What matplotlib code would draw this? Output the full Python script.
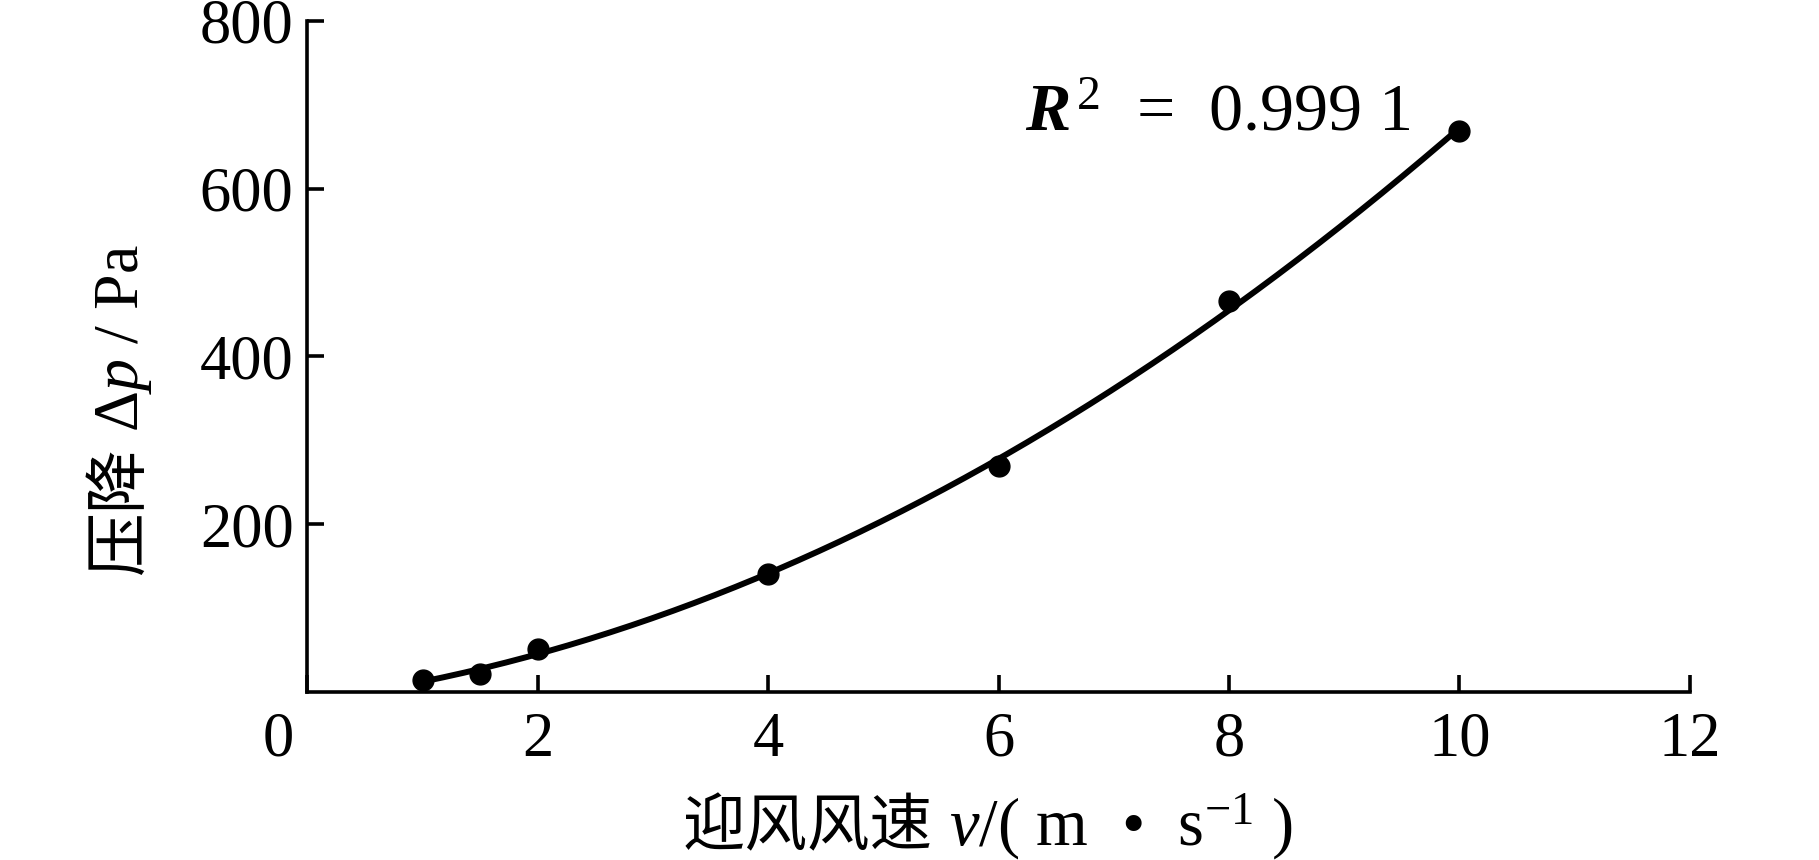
import numpy as np
import matplotlib
matplotlib.use("Agg")
import matplotlib.pyplot as plt
from matplotlib.transforms import ScaledTranslation

# data
speed = [1.0, 1.5, 2.0, 4.0, 6.0, 8.0, 10.0]
pressure = [15, 22, 51, 141, 270, 466, 668]
x_ticks = [0, 2, 4, 6, 8, 10, 12]
y_ticks = [200, 400, 600, 800]
r2_text = r"$\mathbfit{R}^{\,2}$  =  0.999 1"
xlabel_cn = "迎风风速"
xlabel_rest = "$v$/( m  •  s$^{-1}$ )"
ylabel_cn = "压降"
ylabel_rest = r"$\Delta p$ / Pa"

plt.rcParams['font.family'] = ['Liberation Serif', 'Noto Sans CJK SC', 'DejaVu Sans']
plt.rcParams['mathtext.fontset'] = 'custom'
plt.rcParams['mathtext.rm'] = 'Liberation Serif'
plt.rcParams['mathtext.it'] = 'Liberation Serif:italic'
plt.rcParams['mathtext.bf'] = 'Liberation Serif:bold'
plt.rcParams['mathtext.bfit'] = 'Liberation Serif:italic:bold'

W, H = 1819, 860
fig = plt.figure(figsize=(W / 100, H / 100), dpi=100)
ax = fig.add_axes([0.169, 0.195, 0.760, 0.781])

coef = np.polyfit(speed, pressure, 2)
xs = np.linspace(min(speed), max(speed), 200)
ax.plot(xs, np.polyval(coef, xs), color='black', lw=4.3, zorder=2)
ax.plot(speed, pressure, 'o', color='black', ms=15, zorder=3)

ax.set_xlim(0, 12)
ax.set_ylim(0, 800)
ax.set_xticks(x_ticks)
ax.set_yticks(y_ticks)
for s in ['top', 'right']:
    ax.spines[s].set_visible(False)
for s in ['left', 'bottom']:
    ax.spines[s].set_linewidth(2.6)
ax.tick_params(direction='in', length=12, width=2.6, labelsize=45)
ax.tick_params(axis='x', pad=14)
ax.tick_params(axis='y', pad=10)

ax.text(6.23, 668, r2_text, fontsize=49, va='baseline', ha='left')

fig.canvas.draw()
r = fig.canvas.get_renderer()
lbl0 = ax.get_xticklabels()[0]
lbl0.set_transform(lbl0.get_transform() + ScaledTranslation(-0.29, 0, fig.dpi_scale_trans))

# x label (two pieces so CJK and math fonts both render)
tx1 = fig.text(0, 0, xlabel_cn, family='Noto Sans CJK SC', fontsize=45,
               va='baseline', ha='left')
tx2 = fig.text(0, 0, xlabel_rest, fontsize=48, va='baseline', ha='left')
w1 = tx1.get_window_extent(r).width
gap = 16
x0 = 683
yb = 15
tx1.set_position((x0 / W, yb / H))
tx2.set_position(((x0 + w1 + gap) / W, yb / H))

# y label
ty1 = fig.text(0, 0, ylabel_cn, family='Noto Sans CJK SC', fontsize=46,
               rotation=90, rotation_mode='anchor', va='baseline', ha='left')
ty2 = fig.text(0, 0, ylabel_rest, fontsize=46,
               rotation=90, rotation_mode='anchor', va='baseline', ha='left')
h1 = ty1.get_window_extent(r).height
xb = 138
y0 = 286
ty1.set_position((xb / W, y0 / H))
ty2.set_position((xb / W, (y0 + h1 + 14) / H))

fig.savefig('out.png', dpi=100)
